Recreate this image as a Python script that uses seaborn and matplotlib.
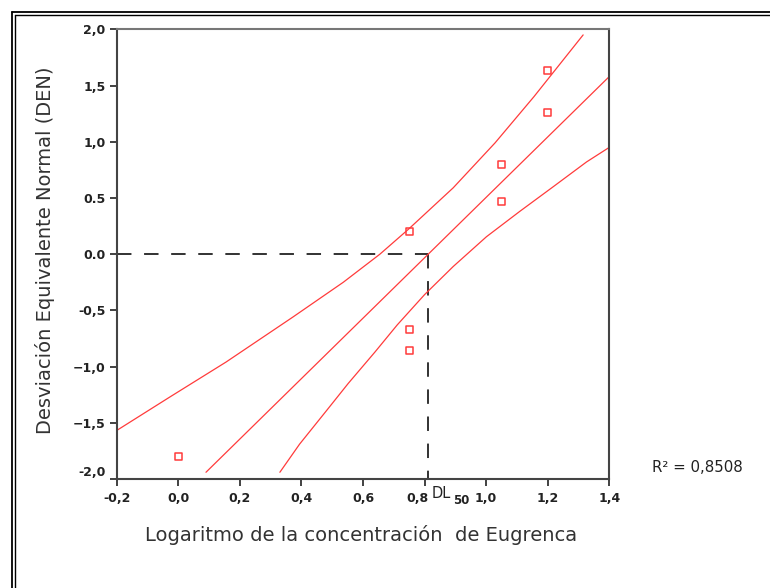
import matplotlib
matplotlib.use("Agg")
import matplotlib.pyplot as plt
from matplotlib.lines import Line2D
from matplotlib.transforms import ScaledTranslation
import seaborn as sns
import pandas as pd

# ---- data ----
obs_x = [0.00, 0.75, 0.75, 0.75, 1.05, 1.05, 1.20, 1.20]
obs_y = [-1.80, 0.20, -0.67, -0.86, 0.80, 0.47, 1.63, 1.26]

fit_x = [0.09, 1.40]
fit_y = [-1.94, 1.58]

upper_x = [-0.198, -0.027, 0.155, 0.372, 0.536, 0.655, 0.747, 0.893, 1.029, 1.155, 1.315]
upper_y = [-1.565, -1.27, -0.96, -0.56, -0.25, 0.00, 0.22, 0.59, 0.99, 1.40, 1.95]

lower_x = [0.330, 0.394, 0.482, 0.552, 0.639, 0.711, 0.800, 0.893, 1.001, 1.109, 1.218, 1.326, 1.400]
lower_y = [-1.94, -1.69, -1.39, -1.15, -0.87, -0.63, -0.36, -0.11, 0.155, 0.38, 0.60, 0.82, 0.95]

dl50 = 0.81
r2_text = "R² = 0,8508"

x_ticks = [-0.2, 0.0, 0.2, 0.4, 0.6, 0.8, 1.0, 1.2, 1.4]
x_tick_labels = ["-0,2", "0,0", "0,2", "0,4", "0,6", "0,8", "1,0", "1,2", "1,4"]
y_ticks = [2.0, 1.5, 1.0, 0.5, 0.0, -0.5, -1.0, -1.5, -2.0]
y_tick_labels = ["2,0", "1,5", "1,0", "0.5", "0.0", "-0,5", "\u22121,0", "\u22121,5", "-2,0"]

x_label = "Logaritmo de la concentración  de Eugrenca"
y_label = "Desviación Equivalente Normal (DEN)"

# ---- plotting ----
sns.set_style("white")
plt.rcParams['font.family'] = ['DejaVu Sans']

W, H = 770, 588
fig = plt.figure(figsize=(W / 100, H / 100), dpi=100)
ax = fig.add_axes([116.7 / W, 1 - 479 / H, (609.3 - 116.7) / W, (479 - 29.3) / H])

red = "#ff3b3b"
df_obs = pd.DataFrame({"x": obs_x, "y": obs_y})
df_fit = pd.DataFrame({"x": fit_x, "y": fit_y})
df_up = pd.DataFrame({"x": upper_x, "y": upper_y})
df_lo = pd.DataFrame({"x": lower_x, "y": lower_y})

for d in (df_fit, df_up, df_lo):
    sns.lineplot(data=d, x="x", y="y", ax=ax, color=red, linewidth=0.9,
                 estimator=None, sort=False)

# dashed reference lines at DL50
ax.plot([x_ticks[0], dl50], [0, 0], color="#222222", lw=1.3, ls=(0, (8, 7)), zorder=1)
ax.plot([dl50, dl50], [0, y_ticks[-1]], color="#222222", lw=1.3, ls=(0, (8, 7)), zorder=1)

sns.scatterplot(data=df_obs, x="x", y="y", ax=ax, marker="s", s=26,
                facecolor="none", edgecolor=red, linewidth=1.1, zorder=3)

ax.set_xlim(-0.2, 1.4)
ax.set_ylim(-2.0, 2.0)
ax.set_xticks(x_ticks)
ax.set_xticklabels(x_tick_labels)
ax.set_yticks(y_ticks)
ax.set_yticklabels(y_tick_labels)
ax.set_xlabel("")
ax.set_ylabel("")

ax.tick_params(axis="both", direction="out", length=5, width=1.3, color="#333333",
               labelsize=9, pad=3, labelcolor="#222222")
ax.tick_params(axis="x", bottom=True, pad=4)
ax.tick_params(axis="y", left=True)
for lab in ax.get_xticklabels() + ax.get_yticklabels():
    lab.set_fontweight("bold")
# the "0,8" label sits a little to the left of its tick, leaving room for DL50
xl = ax.get_xticklabels()
xl[5].set_transform(xl[5].get_transform() + ScaledTranslation(-7 / 100, 0, fig.dpi_scale_trans))
# the "-2,0" label sits slightly above its tick in the reference
yl = ax.get_yticklabels()
yl[-1].set_transform(yl[-1].get_transform() + ScaledTranslation(0, 8 / 100, fig.dpi_scale_trans))

for s in ax.spines.values():
    s.set_visible(True)
    s.set_color("#444444")
    s.set_linewidth(1.5)
ax.spines["top"].set_color("#777777")

# axis titles
fig.text(361 / W, 1 - 535 / H, x_label, ha="center", va="center", fontsize=14, color="#333333")
fig.text(45 / W, 1 - 250 / H, y_label, ha="center", va="center", rotation=90,
         fontsize=14, color="#333333")

# DL50 label next to 0.8 tick
fig.text(432 / W, 1 - 493 / H, "DL", ha="left", va="center", fontsize=10.5, color="#222222")
fig.text(453 / W, 1 - 501 / H, "50", ha="left", va="center", fontsize=8.5,
         fontweight="bold", color="#222222")

# R squared
fig.text(652 / W, 1 - 467 / H, r2_text, ha="left", va="center", fontsize=10.8, color="#222222")

# outer double frame (top and left)
for off, lw in ((11.5, 1.3), (14.5, 1.0)):
    fig.add_artist(Line2D([off / W, 1.0], [1 - off / H, 1 - off / H],
                          transform=fig.transFigure, color="black", lw=lw))
    fig.add_artist(Line2D([off / W, off / W], [0.0, 1 - off / H],
                          transform=fig.transFigure, color="black", lw=lw))

fig.savefig("out.png", dpi=100, facecolor="white")
